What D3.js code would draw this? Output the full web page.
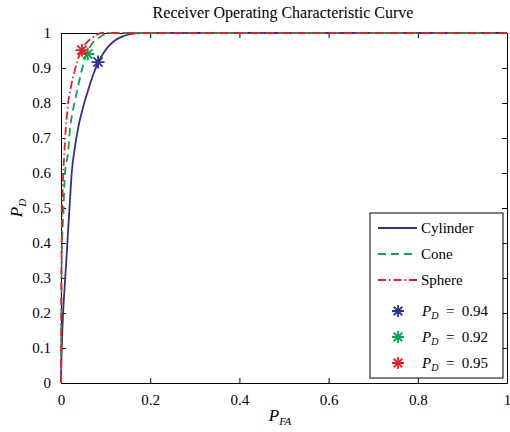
<!DOCTYPE html>
<html lang="en">
<head>
<meta charset="utf-8">
<title>roc</title>
<script src="https://cdn.jsdelivr.net/npm/d3@7"></script>
<style>
  body { margin: 0; background: #fff; }
  svg text { font-family: "Liberation Serif", "DejaVu Serif", serif; fill: #000; }
</style>
</head>
<body>
<div id="chart"></div>
<script>
// values
var cylPfa = [0, 0.0005, 0.0015, 0.003, 0.005, 0.008, 0.012, 0.016, 0.020, 0.024, 0.031, 0.039, 0.050, 0.061, 0.072, 0.083, 0.095, 0.106, 0.120, 0.136, 0.150, 0.166, 0.185, 1];
var cylPd  = [0, 0.04, 0.094, 0.15, 0.209, 0.27, 0.35, 0.437, 0.52, 0.6, 0.672, 0.732, 0.790, 0.837, 0.88, 0.915, 0.942, 0.961, 0.978, 0.989, 0.995, 0.999, 1, 1];
var conePfa = [0, 0.0005, 0.001, 0.002, 0.005, 0.009, 0.016, 0.020, 0.027, 0.035, 0.046, 0.058, 0.070, 0.084, 0.095, 0.105, 1];
var conePd  = [0, 0.1, 0.25, 0.38, 0.475, 0.6, 0.66, 0.723, 0.78, 0.828, 0.89, 0.942, 0.97, 0.985, 0.995, 1, 1];
var sphPfa = [0, 0.0005, 0.0015, 0.004, 0.007, 0.011, 0.016, 0.023, 0.031, 0.038, 0.046, 0.057, 0.069, 0.080, 0.091, 1];
var sphPd  = [0, 0.2, 0.4, 0.56, 0.645, 0.73, 0.799, 0.85, 0.894, 0.925, 0.951, 0.972, 0.985, 0.995, 1, 1];
var markPfa = [0.083, 0.060, 0.047];
var markPd  = [0.917, 0.940, 0.951];
var seriesNames = ["Cylinder", "Cone", "Sphere"];
var markLabels = ["0.94", "0.92", "0.95"];
var xTicks = [0, 0.2, 0.4, 0.6, 0.8, 1];
var yTicks = [0, 0.1, 0.2, 0.3, 0.4, 0.5, 0.6, 0.7, 0.8, 0.9, 1];

var colors = ["#2e3192", "#00a651", "#ed1c24"];
var dashes = [null, "8,5", "8,3,1.5,3"];
var serif = '"Liberation Serif", "DejaVu Serif", serif';

var W = 510, H = 432;
var m = {left: 61, right: 3, top: 33, bottom: 49};
var w = W - m.left - m.right, h = H - m.top - m.bottom;

var svg = d3.select("#chart").append("svg").attr("width", W).attr("height", H)
  .attr("font-family", serif);
var g = svg.append("g").attr("transform", "translate(" + m.left + "," + m.top + ")");

var x = d3.scaleLinear().domain([0, 1]).range([0, w]);
var y = d3.scaleLinear().domain([0, 1]).range([h, 0]);
var fmt = function(d) { return d === 0 || d === 1 ? String(d) : d3.format(".1f")(d); };

// axes, ticks pointing inward on all four sides
var axes = [
  g.append("g").attr("transform", "translate(0," + h + ")")
    .call(d3.axisBottom(x).tickValues(xTicks).tickFormat(fmt).tickSizeInner(-5).tickSizeOuter(0).tickPadding(11)),
  g.append("g").call(d3.axisLeft(y).tickValues(yTicks).tickFormat(fmt).tickSizeInner(-5).tickSizeOuter(0).tickPadding(10)),
  g.append("g").call(d3.axisTop(x).tickValues(xTicks).tickFormat("").tickSizeInner(-5).tickSizeOuter(0)),
  g.append("g").attr("transform", "translate(" + w + ",0)")
    .call(d3.axisRight(y).tickValues(yTicks).tickFormat("").tickSizeInner(-5).tickSizeOuter(0))
];
axes.forEach(a => a.attr("font-family", serif).attr("font-size", 15));
g.selectAll(".domain").attr("stroke", "#000").attr("stroke-width", 1);
g.selectAll(".tick line").attr("stroke", "#000");

var line = d3.line().x(d => x(d[0])).y(d => y(d[1])).curve(d3.curveMonotoneX);
var series = [d3.zip(cylPfa, cylPd), d3.zip(conePfa, conePd), d3.zip(sphPfa, sphPd)];

series.forEach(function(s, i) {
  g.append("path").datum(s)
    .attr("d", line)
    .attr("fill", "none")
    .attr("stroke", colors[i])
    .attr("stroke-width", 1.8)
    .attr("stroke-dasharray", dashes[i]);
});

// asterisk marker: plus and cross together
function star(r) {
  var k = r * 0.7071;
  return "M" + (-r) + ",0L" + r + ",0M0," + (-r) + "L0," + r +
         "M" + (-k) + "," + (-k) + "L" + k + "," + k + "M" + (-k) + "," + k + "L" + k + "," + (-k);
}
markPfa.forEach(function(v, i) {
  g.append("path").attr("d", star(6.5))
    .attr("transform", "translate(" + x(v) + "," + y(markPd[i]) + ")")
    .attr("stroke", colors[i]).attr("stroke-width", 1.8).attr("fill", "none");
});

// title and axis labels
svg.append("text").attr("x", m.left + w / 2 - 1).attr("y", 18).attr("text-anchor", "middle")
  .style("font-size", "16px").text("Receiver Operating Characteristic Curve");

var xl = svg.append("text").attr("x", m.left + w / 2 - 4).attr("y", 421).attr("text-anchor", "middle").style("font-size", "17px");
xl.append("tspan").style("font-style", "italic").text("P");
xl.append("tspan").attr("dy", 4).style("font-style", "italic").style("font-size", "11px").text("FA");

var yl = svg.append("text").attr("transform", "translate(22," + (m.top + h / 2) + ") rotate(-90)")
  .attr("text-anchor", "middle").style("font-size", "17px");
yl.append("tspan").style("font-style", "italic").text("P");
yl.append("tspan").attr("dy", 4).style("font-style", "italic").style("font-size", "11px").text("D");

// legend
var lg = g.append("g").attr("transform", "translate(" + (370 - m.left) + "," + (213 - m.top) + ")");
lg.append("rect").attr("width", 133).attr("height", 165).attr("fill", "#fff").attr("stroke", "#000").attr("stroke-width", 1);
seriesNames.forEach(function(n, i) {
  var yy = 15 + i * 26;
  lg.append("line").attr("x1", 8).attr("x2", 47).attr("y1", yy).attr("y2", yy)
    .attr("stroke", colors[i]).attr("stroke-width", 1.8).attr("stroke-dasharray", dashes[i]);
  lg.append("text").attr("x", 51).attr("y", yy + 5).style("font-size", "15px").text(n);
});
markLabels.forEach(function(lab, i) {
  var yy = 98 + i * 26;
  lg.append("path").attr("d", star(6)).attr("transform", "translate(28," + yy + ")")
    .attr("stroke", colors[i]).attr("stroke-width", 1.8).attr("fill", "none");
  var t = lg.append("text").attr("x", 52).attr("y", yy + 5).style("font-size", "15px");
  t.append("tspan").style("font-style", "italic").text("P");
  t.append("tspan").attr("dy", 3).style("font-style", "italic").style("font-size", "10px").text("D");
  t.append("tspan").attr("dy", -3).text("\u2002=\u2002" + lab);
});
</script>
</body>
</html>
